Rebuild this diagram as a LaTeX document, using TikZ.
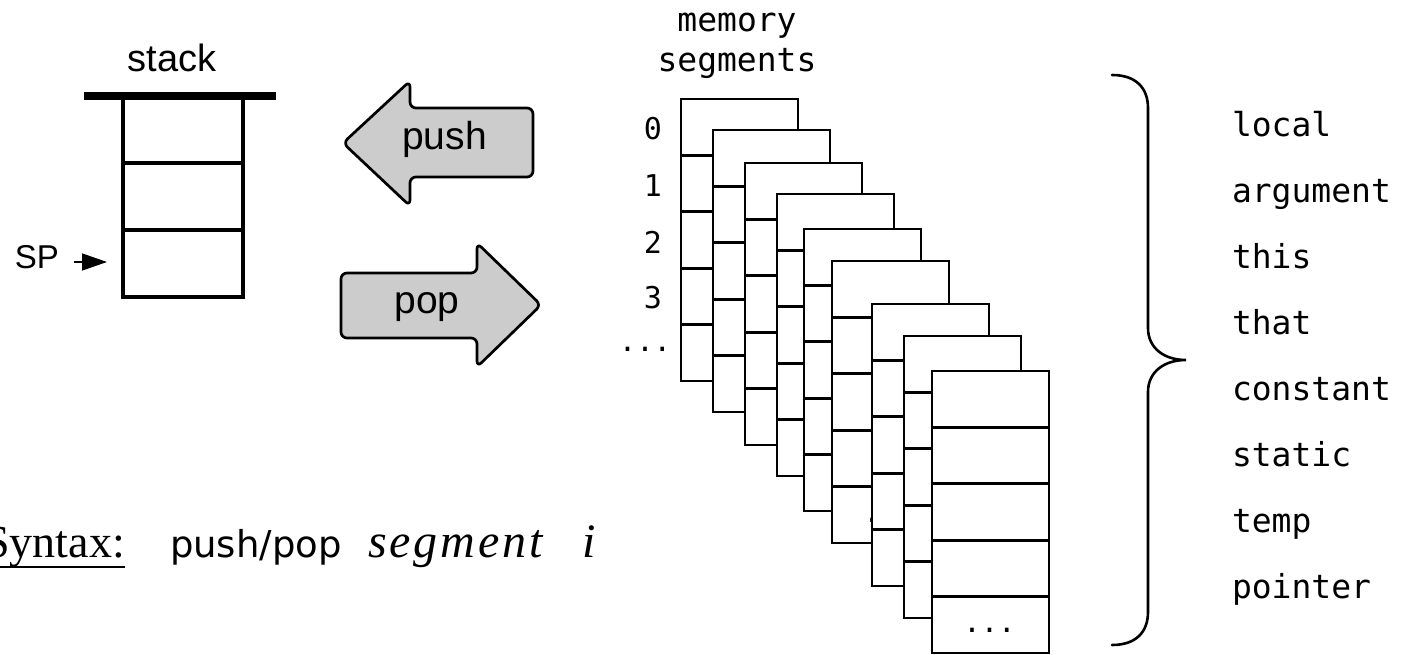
\documentclass[tikz,border=0pt]{standalone}
\usepackage{fontspec}
\setmainfont{Liberation Serif}
\newfontfamily\arialf{Liberation Sans}
\newfontfamily\monof{DejaVu Sans Mono}
\newfontfamily\dvsf{DejaVu Sans}
\newfontfamily\spacedit[LetterSpace=6]{Liberation Serif Italic}
\usetikzlibrary{arrows.meta}

\begin{document}
\begin{tikzpicture}[x=1pt,y=-1pt,
  txt/.style={inner sep=0pt, outer sep=0pt},
  sanslbl/.style={txt, font={\arialf\fontsize{38}{40}\selectfont}},
  splbl/.style={txt, font={\arialf\fontsize{33}{36}\selectfont}},
  arrowlbl/.style={txt, font={\arialf\fontsize{39}{42}\selectfont}},
  monolbl/.style={txt, font={\monof\fontsize{33}{36}\selectfont}},
  idxlbl/.style={txt, font={\monof\fontsize{30}{32}\selectfont}},
  cdots/.style={txt, font={\monof\fontsize{29}{32}\selectfont}},
  cell/.style={draw, line width=3.3pt, minimum width=120pt, minimum height=67pt,
    inner sep=0pt, outer sep=0pt},
  cardline/.style={line width=2.7pt},
  bigarrow/.style={draw=black, fill=black!20, line width=2.7pt,
    rounded corners=6pt, line join=round},
  bracel/.style={line width=2.6pt, line cap=round},
  spptr/.style={line width=1.3pt, -{Triangle[length=25pt,width=17pt]}}
]
\useasboundingbox (0,0) rectangle (1401,655);

% ---- stack ----
\node[sanslbl, anchor=base] (stacklbl) at (172,72) {stack};
\node[cell] (cell1) at (183,129.5) {};
\node[cell] (cell2) at (183,196.5) {};
\node[cell] (cell3) at (183,263.5) {};
\draw[line width=7.5pt] (84,96) -- (276,96);

\node[splbl, anchor=base] (sp) at (37,269) {SP};
\coordinate (spfrom) at (74,262);
\draw[spptr, shorten >=16pt] (spfrom) -- (spfrom -| cell3.west);

% ---- push / pop arrows ----
\draw[bigarrow] (343,143) -- (410,81) -- (410,108) -- (533,108) -- (533,177)
  -- (410,177) -- (410,206) -- cycle;
\node[arrowlbl, anchor=base] (pushlbl) at (444.5,150) {push};

\draw[bigarrow] (341,273) -- (477,273) -- (477,243) -- (541,305) -- (477,367)
  -- (477,338) -- (341,338) -- cycle;
\node[arrowlbl, anchor=base] (poplbl) at (427,313) {pop};

% ---- memory segments ----
\node[monolbl, anchor=base] (memlbl) at (737,32) {memory};
\node[monolbl, anchor=base] (seglbl) at (737,72) {segments};

\node[idxlbl] (idx0) at (653,129) {0};
\node[idxlbl] (idx1) at (653,186) {1};
\node[idxlbl] (idx2) at (653,242) {2};
\node[idxlbl] (idx3) at (653,298) {3};
\node[cdots] (idxdots) at (645,349) {...};

\foreach \cx/\cy [count=\n] in {681/99, 713/130, 745/163, 777/194, 804/229,
    832/261, 872/304, 904/336, 932/371}{
  \draw[cardline, fill=white] (\cx,\cy) rectangle ++(117,282);
  \foreach \k in {1,...,4}
    \draw[cardline] (\cx,\cy+56.4*\k) -- ++(117,0);
  \node[cdots] (carddots\n) at (\cx+57.5,\cy+259) {...};
}

% ---- brace and segment names ----
\draw[bracel] (1112,75) .. controls (1136,75) and (1148,88) .. (1148,108)
  -- (1148,328) .. controls (1148,348) and (1164,360) .. (1186,360)
  .. controls (1164,360) and (1148,372) .. (1148,392)
  -- (1148,612) .. controls (1148,632) and (1136,645) .. (1112,645);

\foreach \w [count=\i from 0] in {local,argument,this,that,constant,static,temp,pointer}
  \node[monolbl, anchor=base west] (seg\i) at (1232,137+65.9*\i) {\w};

% ---- syntax line ----
\node[txt, anchor=base west, font={\fontsize{46}{50}\selectfont}] (syn) at (-15.6,557) {Syntax:};
\draw[line width=2.6pt] ([yshift=-10pt]syn.base west) -- ([yshift=-10pt]syn.base east);
\node[txt, anchor=base west, font={\dvsf\fontsize{37}{40}\selectfont}] (pp) at (170,557) {push/pop};
\node[txt, anchor=base west, font={\spacedit\fontsize{48}{52}\selectfont}] (segw) at (368,557) {segment};
\node[txt, anchor=base west, font={\itshape\fontsize{48}{52}\selectfont}] (iw) at (582,557) {i};
\end{tikzpicture}
\end{document}
